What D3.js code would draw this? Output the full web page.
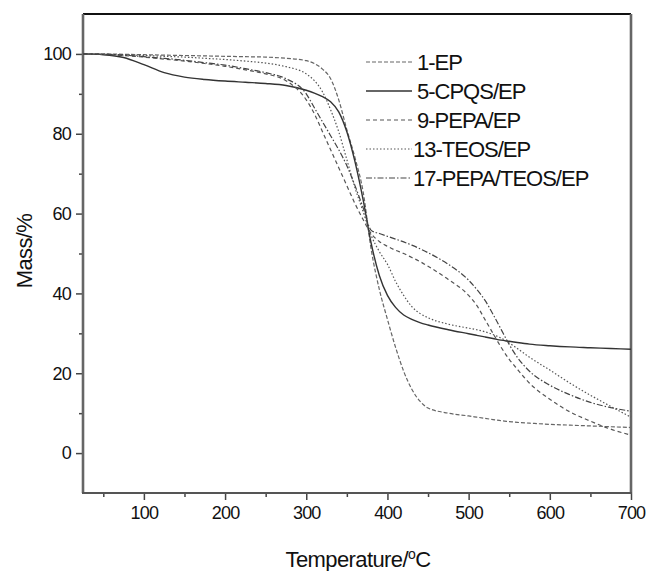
<!DOCTYPE html>
<html>
<head>
<meta charset="utf-8">
<script src="https://cdn.jsdelivr.net/npm/d3@7"></script>
<style>
  body { margin: 0; background: #fff; }
  text { font-family: "Liberation Sans", Arial, sans-serif; fill: #111; }
</style>
</head>
<body>
<svg id="chart" width="646" height="571"></svg>
<script>
// temperatures shared by all curves (°C)
var temps = [25,50,75,100,125,150,175,200,225,250,275,300,310,320,330,340,350,360,370,380,390,400,410,420,430,440,450,475,500,510,520,530,540,550,560,575,600,625,650,675,700];

// mass % for each sample
var massEP = [100,100,99.9,99.8,99.7,99.6,99.5,99.4,99.3,99.2,98.9,98.3,97.6,96.2,93.8,88.5,81,74,65.5,51,41,33.5,26.5,20.5,16,13,11.3,10,9.3,9,8.7,8.4,8.1,7.9,7.7,7.5,7.2,7,6.8,6.6,6.4];
var massCPQS = [100,99.8,99.1,97.3,95.3,94.2,93.6,93.2,92.9,92.6,92.1,90.9,90.2,89.3,88,85.5,80.5,73,63.5,52.5,44.5,39.5,36.5,34.6,33.5,32.7,32.1,30.9,29.9,29.5,29.1,28.7,28.3,28,27.7,27.3,26.9,26.6,26.4,26.2,26];
var massPEPA = [100,99.9,99.6,99.2,98.7,98.2,97.6,96.9,96,95,93.3,88.5,85,80.5,76,71.5,67,62.5,58.5,55,53,51.8,50.8,50,49,48,46.8,43.5,39.5,37,33.5,30,26.5,23.5,21,17.5,13.5,10.3,8,6,4.5];
var massTEOS = [100,99.9,99.8,99.6,99.4,99.2,98.9,98.6,98.2,97.7,96.8,95,93.3,90.5,86,80.5,73.5,66.5,60.5,54.5,50.5,47.3,43,39.5,36.7,35,33.9,32.3,31.3,30.9,30.4,29.7,28.8,27.6,26.2,24,20.8,17.5,14.5,11.7,9];
var massPEPATEOS = [100,99.9,99.7,99.3,98.9,98.4,97.8,97.2,96.3,95.3,93.8,90,86.5,83,79.5,76,72,67,61.5,55.8,55,54.3,53.6,52.9,52.1,51.2,50.2,47.3,43.3,41,38.3,34.8,31,27.2,24,20.5,17,14.6,12.7,11.4,10.5];

var seriesNames = ["1-EP","5-CPQS/EP","9-PEPA/EP","13-TEOS/EP","17-PEPA/TEOS/EP"];
var seriesValues = [massEP, massCPQS, massPEPA, massTEOS, massPEPATEOS];

var xMajor = [100,200,300,400,500,600,700];
var xMinor = [50,150,250,350,450,550,650];
var yMajor = [0,20,40,60,80,100];
var yMinor = [10,30,50,70,90];

// line looks per series
var dashes = ["4,2", null, "4,3", "1.5,2", "6,2,1.5,2"];
var strokes = ["#666", "#333", "#555", "#555", "#444"];

var svg = d3.select('#chart');
var plotL = 83, plotR = 631, plotT = 14, plotB = 493;

var x = d3.scaleLinear().domain([25, 700]).range([plotL, plotR]);
var y = d3.scaleLinear().domain([-10, 110]).range([plotB, plotT]);

// axes: major + minor ticks, frame drawn separately
function tidy(g){
	g.select('.domain').remove();
	g.selectAll('line').attr('stroke', '#444').attr('stroke-width', 1.5);
	g.selectAll('text')
		.attr('font-family', '"Liberation Sans", Arial, sans-serif')
		.attr('font-size', 18)
		.attr('letter-spacing', '-0.8px')
		.attr('fill', '#222');
}

svg.append('g').attr('transform', 'translate(0,' + plotB + ')')
	.call(d3.axisBottom(x).tickValues(xMajor).tickSize(7).tickSizeOuter(0).tickPadding(6).tickFormat(d3.format('d')))
	.call(tidy);
svg.append('g').attr('transform', 'translate(0,' + plotB + ')')
	.call(d3.axisBottom(x).tickValues(xMinor).tickSize(4).tickSizeOuter(0).tickFormat(''))
	.call(tidy);
svg.append('g').attr('transform', 'translate(' + plotL + ',0)')
	.call(d3.axisLeft(y).tickValues(yMajor).tickSize(7).tickSizeOuter(0).tickPadding(5).tickFormat(d3.format('d')))
	.call(tidy);
svg.append('g').attr('transform', 'translate(' + plotL + ',0)')
	.call(d3.axisLeft(y).tickValues(yMinor).tickSize(4).tickSizeOuter(0).tickFormat(''))
	.call(tidy);

// frame
svg.append('line').attr('x1', plotL).attr('x2', plotR).attr('y1', plotT).attr('y2', plotT)
	.attr('stroke', '#111').attr('stroke-width', 1.8);
svg.append('line').attr('x1', plotL).attr('x2', plotL).attr('y1', plotT).attr('y2', plotB)
	.attr('stroke', '#666').attr('stroke-width', 2.6);
svg.append('line').attr('x1', plotR).attr('x2', plotR).attr('y1', plotT).attr('y2', plotB)
	.attr('stroke', '#666').attr('stroke-width', 2.6);
svg.append('line').attr('x1', plotL - 1).attr('x2', plotR + 1).attr('y1', plotB).attr('y2', plotB)
	.attr('stroke', '#555').attr('stroke-width', 2.2);

// curves
var line = d3.line()
	.x(function(d){ return x(d[0]); })
	.y(function(d){ return y(d[1]); })
	.curve(d3.curveMonotoneX);

svg.append('g').selectAll('path')
	.data(seriesValues)
	.enter().append('path')
	.attr('d', function(vals){ return line(temps.map(function(t, i){ return [t, vals[i]]; })); })
	.attr('fill', 'none')
	.attr('stroke', function(d, i){ return strokes[i]; })
	.attr('stroke-width', function(d, i){ return i === 1 ? 1.4 : 1.2; })
	.attr('stroke-dasharray', function(d, i){ return dashes[i]; });

// legend
var legend = svg.append('g').selectAll('g')
	.data(seriesNames)
	.enter().append('g')
	.attr('transform', function(d, i){ return 'translate(0,' + (62 + i * 29) + ')'; });

legend.append('line')
	.attr('x1', 366).attr('x2', 412).attr('y1', 0).attr('y2', 0)
	.attr('stroke', function(d, i){ return strokes[i]; })
	.attr('stroke-width', function(d, i){ return i === 1 ? 1.6 : 1.2; })
	.attr('stroke-dasharray', function(d, i){ return dashes[i]; });

legend.append('text')
	.attr('x', function(d, i){ return i >= 3 ? 413 : 417; })
	.attr('y', 8)
	.attr('font-size', 22)
	.attr('letter-spacing', '-1px')
	.text(function(d){ return d; });

// axis titles
svg.append('text')
	.attr('transform', 'translate(32,251) rotate(-90)')
	.attr('text-anchor', 'middle')
	.attr('font-size', 22)
	.attr('letter-spacing', '-0.6px')
	.text('Mass/%');

var xt = svg.append('text')
	.attr('x', 358).attr('y', 567)
	.attr('text-anchor', 'middle')
	.attr('font-size', 22)
	.attr('letter-spacing', '-0.6px');
xt.append('tspan').text('Temperature/');
xt.append('tspan').attr('font-size', 14).attr('dy', -8).text('o');
xt.append('tspan').attr('dy', 8).text('C');
</script>
</body>
</html>
